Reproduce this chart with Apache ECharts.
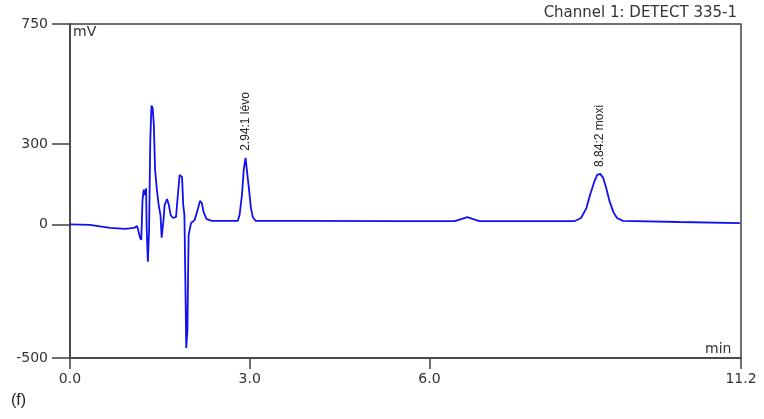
<!DOCTYPE html>
<html>
<head>
<meta charset="utf-8">
<script src="https://cdn.jsdelivr.net/npm/echarts@6/dist/echarts.min.js"></script>
<style>html,body{margin:0;padding:0;background:#fff}#c{width:764px;height:419px}</style>
</head>
<body>
<div id="c"></div>
<script>
// Retention time (min)
var times = [0, 0.33, 0.67, 0.92, 1.07, 1.12, 1.15, 1.17, 1.19, 1.21, 1.23, 1.25, 1.27, 1.28, 1.30, 1.32, 1.34, 1.36, 1.38, 1.40, 1.42, 1.45, 1.48, 1.51, 1.53, 1.56, 1.58, 1.62, 1.65, 1.68, 1.72, 1.77, 1.80, 1.83, 1.87, 1.89, 1.91, 1.93, 1.94, 1.96, 1.97, 1.98, 2.02, 2.08, 2.12, 2.17, 2.20, 2.23, 2.28, 2.37, 2.80, 2.83, 2.87, 2.90, 2.93, 2.95, 2.98, 3.02, 3.05, 3.10, 3.83, 5.50, 6.42, 6.53, 6.63, 6.73, 6.83, 8.42, 8.53, 8.62, 8.68, 8.75, 8.80, 8.85, 8.90, 8.95, 9.00, 9.07, 9.13, 9.23, 10.17, 11.18];
// Detector signal (mV)
var signal = [0, -2, -13, -17, -13, -6, -13, -50, -58, 90, 130, 110, 135, -20, -140, -20, 315, 445, 435, 370, 205, 130, 73, 35, -50, 15, 73, 95, 73, 35, 24, 28, 110, 185, 178, 73, 35, -283, -463, -395, -207, -40, 5, 16, 46, 88, 80, 46, 20, 13, 13, 35, 110, 205, 249, 242, 148, 61, 28, 13, 13, 12, 12, 20, 27, 20, 12, 12, 24, 61, 110, 159, 185, 189, 174, 136, 91, 46, 24, 13, 9, 5];
// Peak annotations
var peakTimes = [2.94, 8.84];
var peakHeights = [249, 189];
var peakLabels = ['2.94:1 lévo', '8.84:2 moxi'];
// Axis ticks
var xTicks = [0, 3, 6, 11.2];
var yTicks = [-500, 0, 300, 750];

var data = times.map(function (t, i) { return [t, signal[i]]; });
var peaks = peakTimes.map(function (t, i) {
  return { coord: [t, peakHeights[i]], value: peakLabels[i] };
});

var axisColor = '#404040';
var wideFont = '"DejaVu Sans", Verdana, sans-serif';
var chart = echarts.init(document.getElementById('c'), null, { renderer: 'canvas' });
chart.setOption({
  animation: false,
  backgroundColor: '#fff',
  grid: { left: 70, right: 23, top: 24, bottom: 61, show: true, borderColor: axisColor, borderWidth: 1.5, backgroundColor: 'transparent' },
  xAxis: {
    type: 'value', min: 0, max: 11.2,
    axisLine: { show: true, onZero: false, lineStyle: { color: axisColor, width: 1.5 } },
    axisTick: { show: true, inside: false, length: 11, customValues: xTicks, lineStyle: { color: axisColor, width: 1.5 } },
    axisLabel: { show: true, customValues: xTicks, margin: 14, color: '#333', fontSize: 14, fontFamily: wideFont, formatter: function (v) { return v.toFixed(1); } },
    splitLine: { show: false }
  },
  yAxis: {
    type: 'value', min: -500, max: 750,
    axisLine: { show: true, onZero: false, lineStyle: { color: axisColor, width: 1.5 } },
    axisTick: { show: true, inside: false, length: 18, customValues: yTicks, lineStyle: { color: axisColor, width: 1.5 } },
    axisLabel: { show: true, customValues: yTicks, margin: 22, color: '#333', fontSize: 14, fontFamily: wideFont },
    splitLine: { show: false }
  },
  series: [{
    type: 'line',
    data: data,
    showSymbol: false,
    smooth: false,
    lineStyle: { color: '#1010f0', width: 1.8 },
    markPoint: {
      symbol: 'circle', symbolSize: 0,
      data: peaks,
      label: {
        show: true, position: 'top', distance: 7, rotate: 90,
        align: 'left', verticalAlign: 'middle',
        formatter: function (p) { return p.value; },
        color: '#222', fontSize: 12, fontFamily: '"Liberation Sans", Arial, sans-serif'
      }
    }
  }],
  graphic: [
    { type: 'text', left: 73, top: 25, style: { text: 'mV', fill: '#333', font: '14px "DejaVu Sans", sans-serif' } },
    { type: 'text', left: 705, top: 342, style: { text: 'min', fill: '#333', font: '14px "DejaVu Sans", sans-serif' } },
    { type: 'text', right: 27, top: 6, style: { text: 'Channel 1: DETECT 335-1', fill: '#333', font: '15px "DejaVu Sans", sans-serif' } },
    { type: 'text', left: 11, top: 393, style: { text: '(f)', fill: '#222', font: '16px "Liberation Sans", Arial, sans-serif' } }
  ]
});
</script>
</body>
</html>
